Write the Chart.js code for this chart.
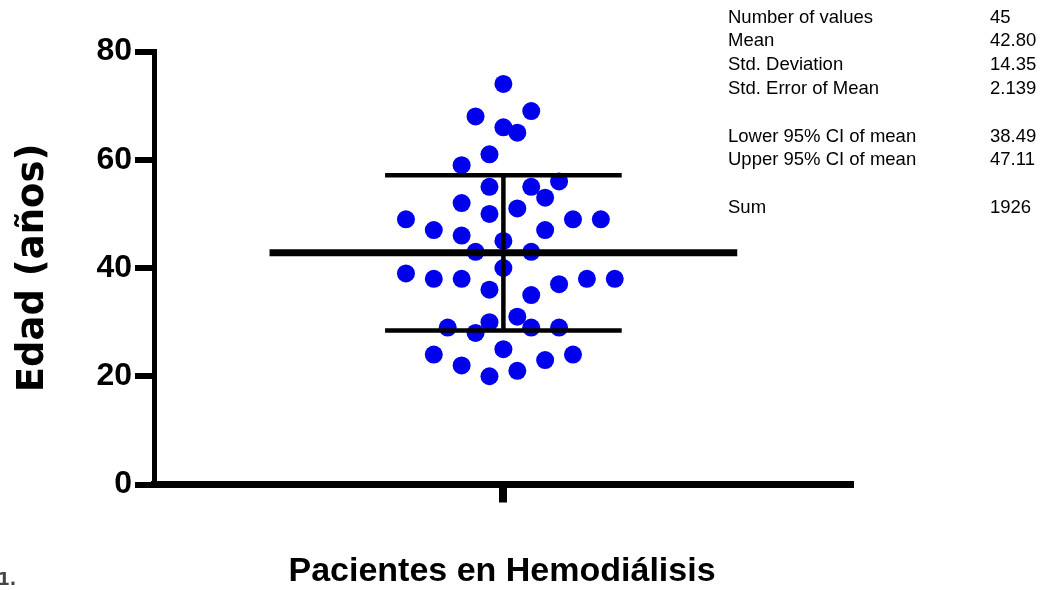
<!DOCTYPE html>
<html>
<head>
<meta charset="utf-8">
<script src="https://cdn.jsdelivr.net/npm/chart.js@4.4.1/dist/chart.umd.min.js"></script>
<style>
  html, body { margin: 0; padding: 0; background: #fff; }
</style>
</head>
<body>
<canvas id="chart" width="1047" height="590"></canvas>
<script>
'use strict';
// edad de cada paciente (de arriba hacia abajo)
const ages = [74, 68, 69, 66, 65, 61, 59, 55, 55, 56, 53, 52, 51, 50, 49, 49, 49, 47, 46, 47, 45, 43, 43,
	40, 39, 38, 38, 38, 38, 37, 36, 35, 31, 30, 29, 28, 29, 29, 25, 24, 24, 23, 22, 21, 20];
// columna de cada punto dentro del enjambre (0 = centro)
const swarmColumn = [0, -2, 2, 0, 1, -1, -3, -1, 2, 4, 3, -3, 1, -1, -7, 5, 7, -5, -3, 3, 0, -2, 2,
	0, -7, -5, -3, 6, 8, 4, -1, 2, 1, -1, -4, -2, 2, 4, 0, -5, 5, 3, -3, 1, -1];
const yTicks = [0, 20, 40, 60, 80];
const statLabels = ['Number of values', 'Mean', 'Std. Deviation', 'Std. Error of Mean', '',
	'Lower 95% CI of mean', 'Upper 95% CI of mean', '', 'Sum'];
const statValues = ['45', '42.80', '14.35', '2.139', '', '38.49', '47.11', '', '1926'];
const meanAge = 42.80;
const sdAge = 14.35;
const figureTag = '1.';

const MEAN_HALF = 16.8, SD_HALF = 8.5;
const boldSans = '"Liberation Sans", Arial, sans-serif';

const lineSet = (data, width) => ({
	data: data,
	showLine: true,
	borderColor: '#000',
	borderWidth: width,
	pointRadius: 0,
	borderCapStyle: 'butt'
});

const statsTable = {
	id: 'statsTable',
	afterDraw: (chart) => {
		const ctx = chart.ctx;
		ctx.save();
		ctx.font = '18.5px "Liberation Sans", Arial, sans-serif';
		ctx.fillStyle = '#000';
		ctx.textBaseline = 'middle';
		statLabels.forEach((label, i) => {
			const y = 17.5 + i * 23.8;
			ctx.fillText(label, 728, y);
			ctx.fillText(statValues[i], 990, y);
		});
		ctx.font = 'bold 17px "DejaVu Sans", sans-serif';
		ctx.fillStyle = '#444';
		ctx.textBaseline = 'alphabetic';
		ctx.fillText(figureTag, -2, 585);
		ctx.restore();
	}
};

const ctx = document.getElementById('chart').getContext('2d');
const chart = new Chart(ctx, {
	type: 'scatter',
	data: {
		datasets: [
			lineSet([{x: -MEAN_HALF, y: meanAge}, {x: MEAN_HALF, y: meanAge}], 7),
			lineSet([{x: -SD_HALF, y: meanAge + sdAge}, {x: SD_HALF, y: meanAge + sdAge}], 4.5),
			lineSet([{x: -SD_HALF, y: meanAge - sdAge}, {x: SD_HALF, y: meanAge - sdAge}], 4.5),
			lineSet([{x: 0, y: meanAge + sdAge}, {x: 0, y: meanAge - sdAge}], 4.5),
			{
				data: ages.map((a, i) => ({x: swarmColumn[i], y: a})),
				backgroundColor: 'rgb(0, 0, 238)',
				borderWidth: 0,
				pointRadius: 9
			}
		]
	},
	options: {
		responsive: false,
		animation: false,
		events: [],
		layout: {padding: {top: 51.5, right: 197, bottom: 0, left: 0}},
		plugins: {legend: {display: false}, tooltip: {enabled: false}},
		scales: {
			x: {
				type: 'linear',
				min: -25.1,
				max: 24.9,
				afterBuildTicks: (s) => { s.ticks = [{value: 0}]; },
				afterFit: (s) => { s.height = 105.5; },
				ticks: {callback: () => '', padding: 0},
				grid: {drawOnChartArea: false, tickLength: 18, lineWidth: 8, color: '#000'},
				border: {width: 7, color: '#000'},
				title: {
					display: true,
					text: 'Pacientes en Hemodiálisis',
					color: '#000',
					font: {family: boldSans, size: 34, weight: 'bold'},
					padding: {top: 0, bottom: -2}
				}
			},
			y: {
				min: 0,
				max: 80,
				afterBuildTicks: (s) => { s.ticks = yTicks.map(v => ({value: v})); },
				afterFit: (s) => { s.width = 154; },
				ticks: {color: '#000', padding: 3, font: {family: boldSans, size: 32, weight: 'bold'}},
				grid: {drawOnChartArea: false, tickLength: 19, lineWidth: 6, color: '#000'},
				border: {width: 5, color: '#000'},
				title: {
					display: true,
					text: 'Edad (años)',
					color: '#000',
					font: {family: '"DejaVu Sans", sans-serif', size: 37, weight: 'bold'},
					padding: {top: 11, bottom: 0}
				}
			}
		}
	},
	plugins: [statsTable]
});
</script>
</body>
</html>
